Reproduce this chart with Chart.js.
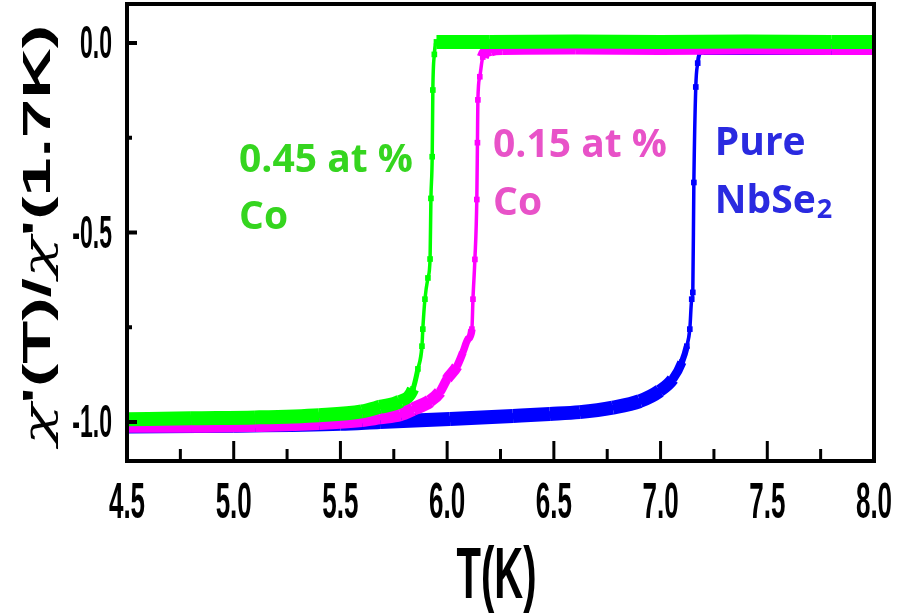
<!DOCTYPE html>
<html>
<head>
<meta charset="utf-8">
<script src="https://cdn.jsdelivr.net/npm/chart.js@4"></script>
<style>
  body { margin: 0; background: #fff; }
  canvas { display: block; }
</style>
</head>
<body>
<canvas id="chiChart" width="902" height="614"></canvas>
<script>
// data: T (K) and chi'(T)/chi'(1.7K)
const greenT = [4.5, 4.8, 5.1, 5.4, 5.6, 5.685, 5.78, 5.84, 5.863, 5.882, 5.886, 5.896, 5.91, 5.92, 5.924, 5.93, 5.933, 5.94, 5.95, 6.2, 6.6, 7.0, 7.4, 7.8, 8.0];
const greenV = [-0.993, -0.99, -0.988, -0.982, -0.972, -0.96, -0.945, -0.913, -0.86, -0.8, -0.755, -0.676, -0.62, -0.57, -0.41, -0.3, -0.124, -0.03, 0.003, 0.003, 0.004, 0.003, 0.004, 0.003, 0.003];

const pinkT = [4.5, 4.8, 5.1, 5.4, 5.6, 5.685, 5.78, 5.84, 5.919, 5.966, 5.999, 6.046, 6.074, 6.097, 6.116, 6.121, 6.13, 6.139, 6.142, 6.144, 6.153, 6.167, 6.2, 6.26, 6.6, 7.0, 7.4, 7.8, 8.0];
const pinkV = [-1.01, -1.01, -1.008, -1.003, -0.995, -0.988, -0.98, -0.966, -0.945, -0.921, -0.887, -0.853, -0.816, -0.782, -0.755, -0.676, -0.571, -0.413, -0.263, -0.15, -0.089, -0.037, -0.018, -0.013, -0.012, -0.013, -0.012, -0.013, -0.013];

const blueT = [4.5, 5.0, 5.5, 5.685, 6.013, 6.308, 6.481, 6.621, 6.776, 6.903, 6.996, 7.057, 7.1, 7.123, 7.137, 7.146, 7.151, 7.156, 7.165, 7.174, 7.184, 7.2, 7.5, 8.0];
const blueV = [-1.012, -1.01, -1.005, -1.0, -0.992, -0.984, -0.979, -0.974, -0.962, -0.945, -0.918, -0.887, -0.842, -0.8, -0.755, -0.676, -0.658, -0.368, -0.116, -0.053, -0.024, -0.013, -0.013, -0.013];

// ticks
const xTicks = [4.5, 5.0, 5.5, 6.0, 6.5, 7.0, 7.5, 8.0];
const xTickLabels = ["4.5", "5.0", "5.5", "6.0", "6.5", "7.0", "7.5", "8.0"];
const yTicks = [-1.0, -0.5, 0.0];
const yTickLabels = ["-1.0", "-0.5", "0.0"];

const xTitle = "T(K)";
// y title in pieces so the chi can use a serif italic face
const yTitleParts = ["\u03C7", "'(T)/", "\u03C7", "'(1.7K)"];

// labels on the plot
const notes = [
  { lines: ["0.45 at %", "Co"], T: 5.025, v: [-0.34, -0.491], color: "#35d51f" },
  { lines: ["0.15 at %", "Co"], T: 6.215, v: [-0.301, -0.454], color: "#e852c8" },
  { lines: ["Pure", "NbSe\u2082"], T: 7.254, v: [-0.296, -0.449], color: "#2a2ae0" }
];

function toPoints(xs, ys) {
  return xs.map((t, i) => ({ x: t, y: ys[i] }));
}

// flat parts look like a thick band of points, steep parts a thin line
function bandWidth(ctx) {
  const dx = Math.abs(ctx.p1.x - ctx.p0.x);
  const dy = Math.abs(ctx.p1.y - ctx.p0.y);
  const a = Math.atan2(dy, dx) / (Math.PI / 2);
  return 14 - 10.5 * Math.min(1, Math.pow(a, 3) * 1.4);
}

function series(data, color, order) {
  return {
    data: data,
    borderColor: color,
    backgroundColor: color,
    borderWidth: 14,
    pointStyle: "rect",
    pointRadius: 4,
    pointBorderWidth: 0,
    pointBackgroundColor: color,
    cubicInterpolationMode: "monotone",
    order: order,
    segment: { borderWidth: bandWidth }
  };
}

function stretchedText(ctx, text, x, y, sy, align) {
  ctx.save();
  ctx.translate(x, y);
  ctx.scale(1, sy);
  ctx.textAlign = align;
  ctx.textBaseline = "alphabetic";
  ctx.fillText(text, 0, 0);
  ctx.restore();
}

const framePlugin = {
  id: "frame",
  afterDatasetsDraw(chart) {
    const ctx = chart.ctx;
    const a = chart.chartArea;
    const xs = chart.scales.x;
    const ys = chart.scales.y;
    ctx.save();
    ctx.strokeStyle = "#000";
    ctx.fillStyle = "#000";

    // box
    ctx.lineWidth = 4;
    ctx.strokeRect(a.left, a.top, a.right - a.left, a.bottom - a.top);

    // inward ticks
    ctx.lineWidth = 3;
    ctx.beginPath();
    xTicks.forEach((v, i) => {
      const px = xs.getPixelForValue(v);
      ctx.moveTo(px, a.bottom);
      ctx.lineTo(px, a.bottom - 20);
      if (i < xTicks.length - 1) {
        const mx = xs.getPixelForValue((v + xTicks[i + 1]) / 2);
        ctx.moveTo(mx, a.bottom);
        ctx.lineTo(mx, a.bottom - 12);
      }
    });
    ctx.stroke();
    ctx.lineWidth = 4;
    ctx.beginPath();
    yTicks.forEach((v, i) => {
      const py = ys.getPixelForValue(v);
      ctx.moveTo(a.left, py);
      ctx.lineTo(a.left + 10, py);
      if (i < yTicks.length - 1) {
        const my = ys.getPixelForValue((v + yTicks[i + 1]) / 2);
        ctx.moveTo(a.left, my);
        ctx.lineTo(a.left + 5, my);
      }
    });
    ctx.stroke();

    // tick labels
    ctx.font = 'bold 26px "Liberation Sans", Arial, sans-serif';
    xTicks.forEach((v, i) => {
      stretchedText(ctx, xTickLabels[i], xs.getPixelForValue(v), a.bottom + 57, 1.9, "center");
    });
    ctx.font = 'bold 23px "Liberation Sans", Arial, sans-serif';
    yTicks.forEach((v, i) => {
      stretchedText(ctx, yTickLabels[i], a.left - 15, ys.getPixelForValue(v) + 15, 2.05, "right");
    });

    // axis titles
    ctx.font = 'bold 40px "Liberation Sans", Arial, sans-serif';
    stretchedText(ctx, xTitle, (a.left + a.right) / 2 - 4, 598, 1.8, "center");

    const chiFont = 'italic 38px "DejaVu Serif", "Liberation Serif", serif';
    const restFont = 'bold 39px "Liberation Sans", Arial, sans-serif';
    const fontFor = p => (p === "\u03C7" ? chiFont : restFont);
    let total = 0;
    yTitleParts.forEach(p => { ctx.font = fontFor(p); total += ctx.measureText(p).width; });
    ctx.save();
    ctx.translate(50, 235);
    ctx.rotate(-Math.PI / 2);
    ctx.scale(1.8, 1);
    ctx.textAlign = "left";
    ctx.textBaseline = "alphabetic";
    let cx = -total / 2;
    yTitleParts.forEach(p => {
      ctx.font = fontFor(p);
      ctx.fillText(p, cx, 0);
      cx += ctx.measureText(p).width;
    });
    ctx.restore();

    // sample labels
    notes.forEach(n => {
      ctx.fillStyle = n.color;
      const px = xs.getPixelForValue(n.T);
      n.lines.forEach((line, k) => {
        const py = ys.getPixelForValue(n.v[k]);
        ctx.textAlign = "left";
        ctx.textBaseline = "alphabetic";
        if (line.endsWith("\u2082")) {
          const main = line.slice(0, -1);
          ctx.font = 'bold 39px "Open Sans", sans-serif';
          ctx.fillText(main, px, py);
          const w = ctx.measureText(main).width;
          ctx.font = 'bold 27px "Open Sans", sans-serif';
          ctx.fillText("2", px + w + 1, py + 5);
        } else {
          ctx.font = 'bold 39px "Open Sans", sans-serif';
          ctx.fillText(line, px, py);
        }
      });
    });
    ctx.restore();
  }
};

new Chart(document.getElementById("chiChart"), {
  type: "line",
  data: {
    datasets: [
      series(toPoints(blueT, blueV), "#0000ff", 3),
      series(toPoints(pinkT, pinkV), "#ff00ff", 2),
      series(toPoints(greenT, greenV), "#00ff00", 1)
    ]
  },
  options: {
    responsive: false,
    animation: false,
    layout: { padding: { top: 4, right: 28, left: 0, bottom: 0 } },
    plugins: { legend: { display: false }, tooltip: { enabled: false } },
    scales: {
      x: {
        type: "linear",
        min: 4.5,
        max: 8.0,
        grid: { display: false },
        border: { display: false },
        ticks: { display: false, stepSize: 0.5 },
        afterFit: s => { s.height = 153; }
      },
      y: {
        type: "linear",
        min: -1.103,
        max: 0.103,
        grid: { display: false },
        border: { display: false },
        ticks: { display: false, stepSize: 0.5, includeBounds: false },
        afterFit: s => { s.width = 127; }
      }
    }
  },
  plugins: [framePlugin]
});
</script>
</body>
</html>
